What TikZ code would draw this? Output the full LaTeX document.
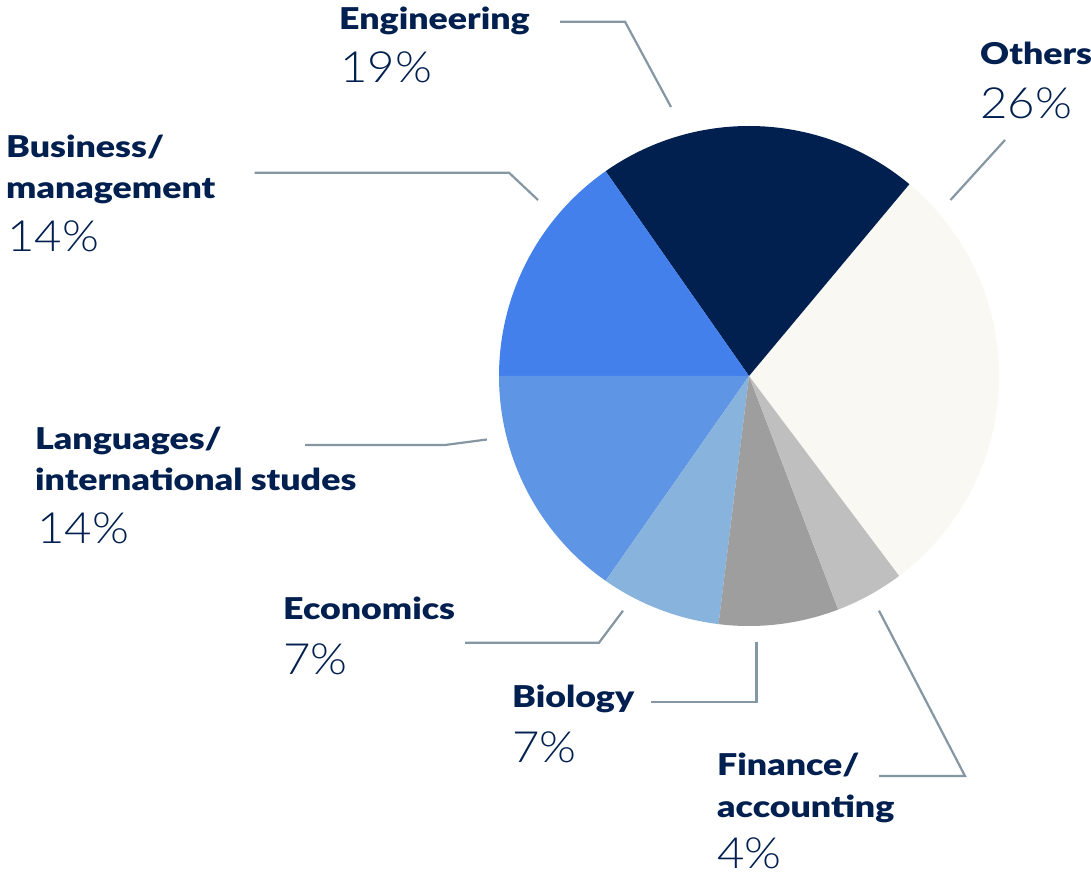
\documentclass[tikz,border=0pt]{standalone}
\usepackage{fontspec}
\setmainfont{Lato}
\newfontfamily\heavyfont{Lato Black}[FakeStretch=1.19]
\newfontfamily\thinfont{Lato Light}[FakeStretch=1.1]
\definecolor{navy}{HTML}{011F4F}
\definecolor{leadgray}{HTML}{8597A3}
\definecolor{busblue}{HTML}{4480EC}
\definecolor{langblue}{HTML}{5F95E5}
\definecolor{ecoblue}{HTML}{88B3DD}
\definecolor{biogray}{HTML}{9E9E9E}
\definecolor{fingray}{HTML}{BFBFBF}
\definecolor{othcream}{HTML}{FAF8F2}

\begin{document}
\begin{tikzpicture}[x=1pt,y=1pt,
  lab/.style={anchor=base west,inner sep=0pt,text=navy,font=\fontsize{30}{36}\heavyfont},
  pct/.style={anchor=base west,inner sep=0pt,text=navy,font=\fontsize{43}{48}\thinfont},
  leader/.style={draw=leadgray,line width=2.2pt}]
  \fill[white] (0,0) rectangle (1091,875);
  \useasboundingbox (0,0) rectangle (1091,875);

  % pie
  \coordinate (ctr) at (749,499);
  \fill[othcream] (ctr) -- ++(-53.1:250) arc[start angle=-53.1, end angle=50.1, radius=250] -- cycle;
  \fill[navy] (ctr) -- ++(50.1:250) arc[start angle=50.1, end angle=125, radius=250] -- cycle;
  \fill[busblue] (ctr) -- ++(125:250) arc[start angle=125, end angle=180, radius=250] -- cycle;
  \fill[langblue] (ctr) -- ++(180:250) arc[start angle=180, end angle=235, radius=250] -- cycle;
  \fill[ecoblue] (ctr) -- ++(235:250) arc[start angle=235, end angle=263, radius=250] -- cycle;
  \fill[biogray] (ctr) -- ++(263:250) arc[start angle=263, end angle=290.9, radius=250] -- cycle;
  \fill[fingray] (ctr) -- ++(290.9:250) arc[start angle=290.9, end angle=306.9, radius=250] -- cycle;

  % labels
  \node[lab] (eng) at (339,845) {Engineering};
  \node[pct] (engpct) at (340,792) {19\%};
  \node[lab] (oth) at (980,810) {Others};
  \node[pct] (othpct) at (980,756) {26\%};
  \node[lab] (bus) at (6,717) {Business/};
  \node[lab] (bus2) at (6,676) {management};
  \node[pct] (buspct) at (7,623) {14\%};
  \node[lab] (lang) at (35,425) {Languages/};
  \node[lab] (lang2) at (35,384) {international studes};
  \node[pct] (langpct) at (37,331) {14\%};
  \node[lab] (eco) at (283,255) {Economics};
  \node[pct] (ecopct) at (283,200) {7\%};
  \node[lab] (bio) at (512,167) {Biology};
  \node[pct] (biopct) at (512,113) {7\%};
  \node[lab] (fin) at (717,100) {Finance/};
  \node[lab] (fin2) at (717,58) {accounting};
  \node[pct] (finpct) at (717,7) {4\%};

  % leader lines
  \coordinate (engL) at (560,853.3);
  \coordinate (engP) at (671,768);
  \draw[leader] (engL) -- (625,853.3) -- (engP);
  \coordinate (othL) at (1005,735);
  \coordinate (othP) at (950.5,675);
  \draw[leader] (othL) -- (othP);
  \coordinate (busL) at (254.5,702.3);
  \coordinate (busP) at (538,675);
  \draw[leader] (busL) -- (509,702.3) -- (busP);
  \coordinate (langL) at (305,430);
  \coordinate (langP) at (487,435.5);
  \draw[leader] (langL) -- (445,430) -- (langP);
  \coordinate (ecoL) at (465,232.3);
  \coordinate (ecoP) at (623,264.3);
  \draw[leader] (ecoL) -- (599,232.3) -- (ecoP);
  \coordinate (bioL) at (651,173.3);
  \coordinate (bioP) at (756.4,232.7);
  \draw[leader] (bioL) -- (756.4,173.3) -- (bioP);
  \coordinate (finL) at (879,99);
  \coordinate (finP) at (879,264.3);
  \draw[leader] (finL) -- (965,99) -- (finP);
\end{tikzpicture}
\end{document}
